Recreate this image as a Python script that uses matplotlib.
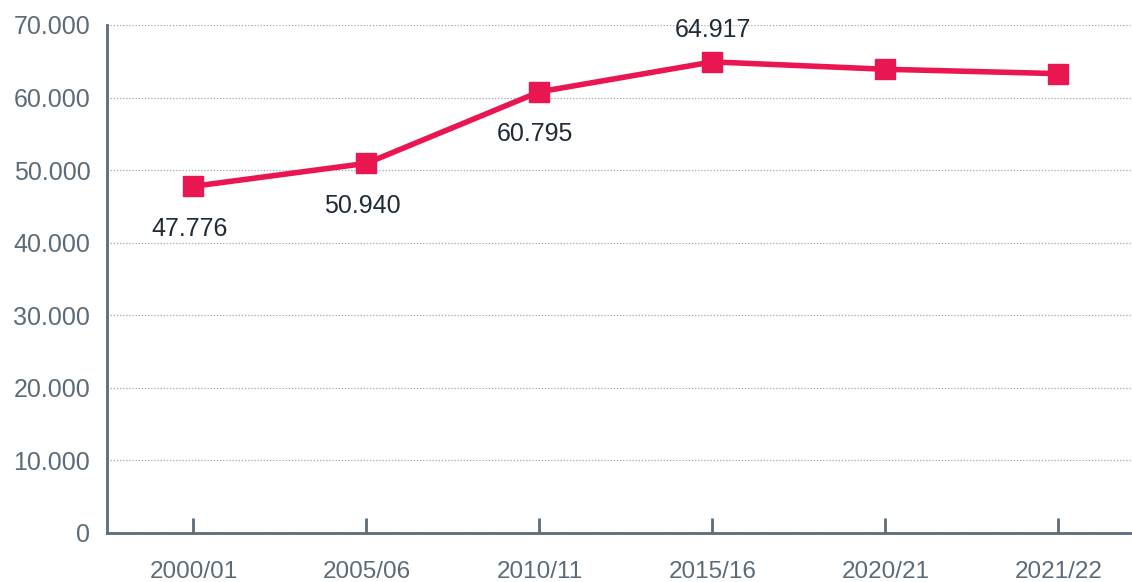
import numpy as np
import matplotlib.pyplot as plt

# data
years = ['2000/01', '2005/06', '2010/11', '2015/16', '2020/21', '2021/22']
values = [47776, 50940, 60795, 64917, 63900, 63300]
labelled = [True, True, True, True, False, False]
label_above = [False, False, False, True, False, False]
yticks = [0, 10000, 20000, 30000, 40000, 50000, 60000, 70000]

axis_col = '#5b6b78'
line_col = '#ea1651'
text_col = '#1f2b36'

plt.rcParams['font.family'] = ['Liberation Sans', 'DejaVu Sans']

fig = plt.figure(figsize=(11.32, 5.82), dpi=100)
ax = fig.add_axes([107 / 1132, (582 - 533) / 582, 1025 / 1132, 508 / 582])

x = np.arange(len(years))
ax.plot(x, values, color=line_col, lw=4, marker='s', ms=14, zorder=3)

for xi, v, show, above in zip(x, values, labelled, label_above):
    if not show:
        continue
    txt = f'{v:,}'.replace(',', '.')
    if above:
        ax.annotate(txt, (xi, v), xytext=(0, 14), textcoords='offset points',
                    ha='center', va='bottom', fontsize=18, color=text_col)
    else:
        ax.annotate(txt, (xi, v), xytext=(-3, -22), textcoords='offset points',
                    ha='center', va='top', fontsize=18, color=text_col)

ax.set_xlim(-0.5, 5.425)
ax.set_ylim(0, 70000)
ax.set_xticks(x)
ax.set_xticklabels(years)
ax.set_yticks(yticks)
ax.set_yticklabels([f'{t:,}'.replace(',', '.') for t in yticks])

ax.grid(axis='y', color='#9aa6b0', ls=(0, (1, 1.5)), lw=0.9)
ax.set_axisbelow(True)

for s in ['top', 'right']:
    ax.spines[s].set_visible(False)
for s in ['left', 'bottom']:
    ax.spines[s].set_color(axis_col)
    ax.spines[s].set_linewidth(2)

ax.tick_params(axis='x', direction='in', length=11, width=2, color=axis_col,
               labelcolor=axis_col, labelsize=17.5, pad=20)
ax.tick_params(axis='y', length=0, labelcolor=axis_col, labelsize=18, pad=12)

fig.savefig('out.png', dpi=100)
